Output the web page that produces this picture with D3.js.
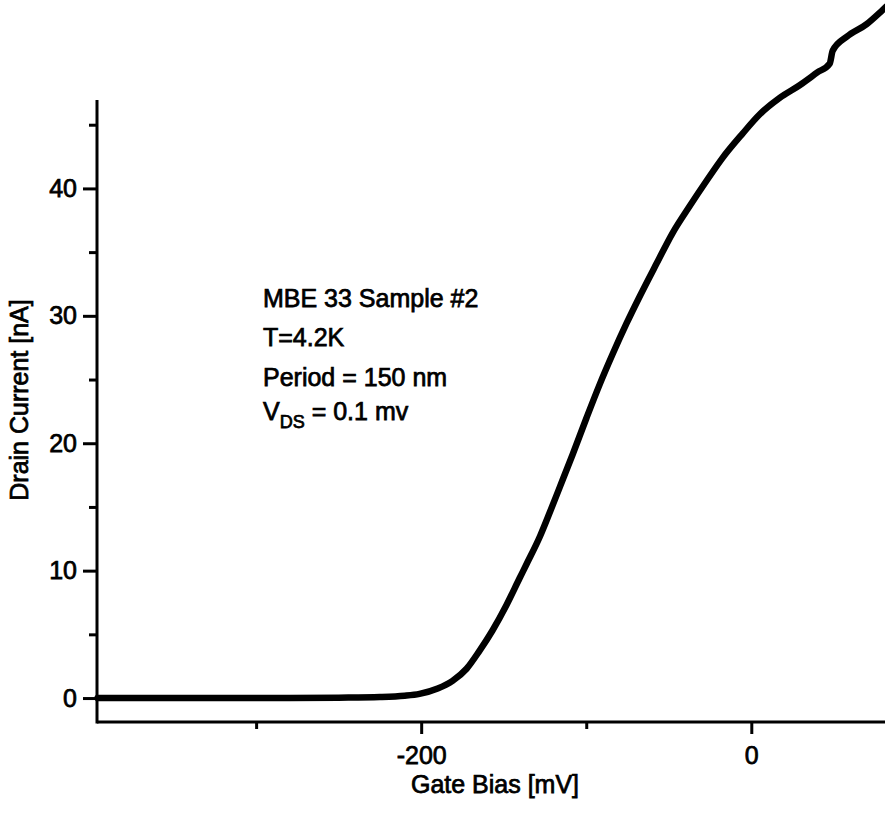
<!DOCTYPE html>
<html>
<head>
<meta charset="utf-8">
<script src="https://cdn.jsdelivr.net/npm/d3@7"></script>
<style>
  html, body { margin: 0; padding: 0; background: #fff; }
  svg { display: block; }
  text { font-family: "Liberation Sans", Arial, Helvetica, sans-serif; fill: #000; }
</style>
</head>
<body>
<svg id="chart" width="885" height="815"></svg>
<script>
// Gate bias (mV) and drain current (nA)
const gateBias = [-396, -370, -340, -310, -280, -250, -225, -210, -201, -190, -181, -172.5, -164.7, -156.8, -148.3, -140.4, -136.2, -128, -122, -116.2, -108.3, -99.8, -91.9, -84, -75.6, -67.7, -57.4, -47.7, -37.4, -27.1, -17.4, -5.3, 5, 17.2, 29.3, 40, 47.5, 49.3, 57.8, 69.9, 79.5, 82];
const drainCurrent = [0, 0, 0, 0, 0, 0.03, 0.08, 0.18, 0.33, 0.75, 1.35, 2.3, 3.7, 5.3, 7.3, 9.4, 10.5, 12.7, 14.6, 16.5, 19.1, 22.0, 24.6, 27.0, 29.4, 31.5, 34.1, 36.5, 38.6, 40.6, 42.4, 44.3, 45.8, 47.1, 48.1, 49.1, 49.8, 50.8, 51.9, 52.9, 54.0, 54.3];

const xMajorTicks = [-200, 0];
const xMinorTicks = [-300, -100];
const yMajorTicks = [0, 10, 20, 30, 40];
const yMinorTicks = [5, 15, 25, 35, 45];

const xLabel = "Gate Bias [mV]";
const yLabel = "Drain Current [nA]";
const noteLines = ["MBE 33 Sample #2", "T=4.2K", "Period = 150 nm"];

const svg = d3.select("#chart");
const x = d3.scaleLinear().domain([-396.4, 81]).range([97, 885]);
const y = d3.scaleLinear().domain([-1.88, 46.94]).range([722, 100]);

const fs = 25;
const sw = 0.75;

// Axes
const gx = svg.append("g").attr("transform", "translate(0,722)");
gx.call(d3.axisBottom(x).tickValues(xMajorTicks).tickSize(12).tickPadding(12).tickFormat(d => String(d)));
const gxm = svg.append("g").attr("transform", "translate(0,722)");
gxm.call(d3.axisBottom(x).tickValues(xMinorTicks).tickSize(7).tickFormat(""));

const gy = svg.append("g").attr("transform", "translate(97,0)");
gy.call(d3.axisLeft(y).tickValues(yMajorTicks).tickSize(14).tickPadding(6).tickFormat(d => String(d)));
const gym = svg.append("g").attr("transform", "translate(97,0)");
gym.call(d3.axisLeft(y).tickValues(yMinorTicks).tickSize(8).tickFormat(""));

[gx, gxm, gy, gym].forEach(g => {
  g.select(".domain").remove();
  g.selectAll(".tick line").attr("stroke", "#000").attr("stroke-width", 3);
  g.selectAll(".tick text").attr("font-size", fs).attr("fill", "#000")
    .attr("stroke", "#000").attr("stroke-width", sw)
    .style("font-family", "'Liberation Sans', Arial, sans-serif");
});

// axis lines
svg.append("line").attr("x1", 97).attr("x2", 885).attr("y1", 722).attr("y2", 722)
  .attr("stroke", "#000").attr("stroke-width", 3);
svg.append("line").attr("x1", 97).attr("x2", 97).attr("y1", y.range()[1]).attr("y2", 723.5)
  .attr("stroke", "#000").attr("stroke-width", 3);

// Data curve
const pts = gateBias.map((g, i) => [g, drainCurrent[i]]);
const line = d3.line().x(d => x(d[0])).y(d => y(d[1])).curve(d3.curveMonotoneX);
svg.append("path").datum(pts).attr("d", line)
  .attr("fill", "none").attr("stroke", "#000").attr("stroke-width", 6.5)
  .attr("stroke-linecap", "round").attr("stroke-linejoin", "round");

// Axis titles
svg.append("text").attr("x", 495).attr("y", 793).attr("text-anchor", "middle")
  .attr("font-size", fs).attr("stroke", "#000").attr("stroke-width", sw).text(xLabel);
svg.append("text").attr("transform", "translate(28,400) rotate(-90)").attr("text-anchor", "middle")
  .attr("font-size", fs).attr("stroke", "#000").attr("stroke-width", sw).text(yLabel);

// Annotation
const noteY = [307, 346, 386];
noteLines.forEach((t, i) => {
  svg.append("text").attr("x", 263).attr("y", noteY[i]).attr("font-size", fs)
    .attr("stroke", "#000").attr("stroke-width", sw).text(t);
});
const vds = svg.append("text").attr("x", 263).attr("y", 420).attr("font-size", fs)
  .attr("stroke", "#000").attr("stroke-width", sw);
vds.append("tspan").text("V");
vds.append("tspan").attr("font-size", 18).attr("dy", 8).text("DS");
vds.append("tspan").attr("dy", -8).text(" = 0.1 mv");
</script>
</body>
</html>
